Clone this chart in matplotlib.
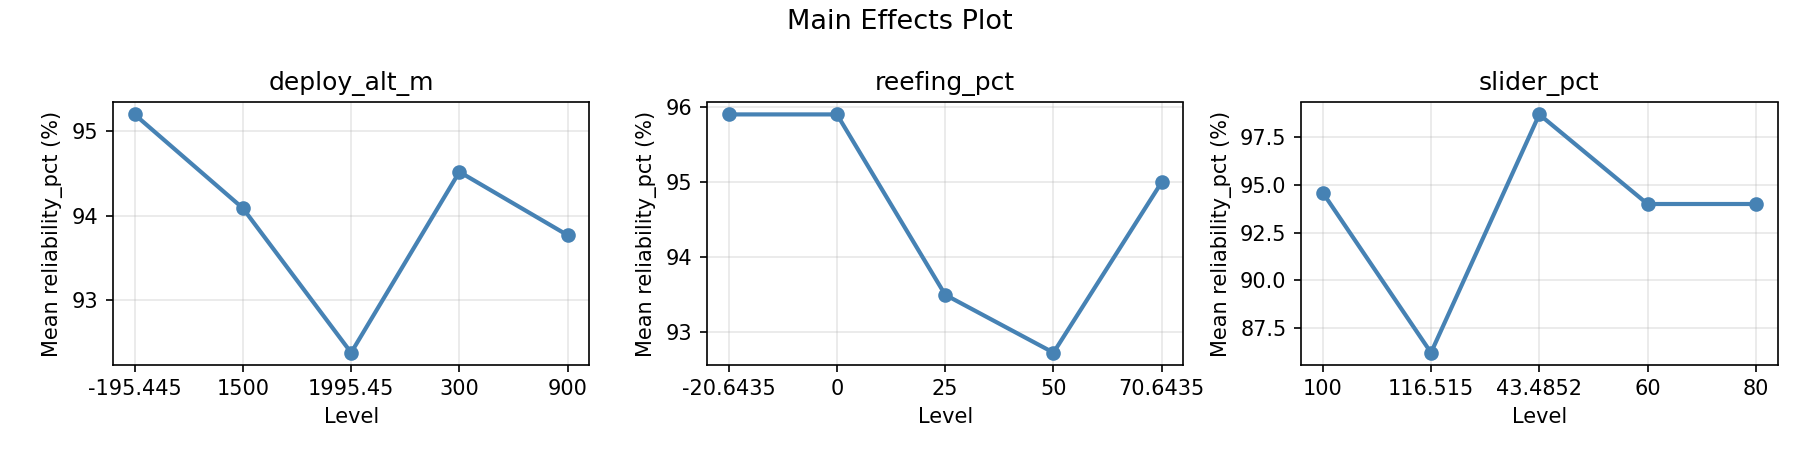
import matplotlib
matplotlib.use("Agg")
import matplotlib.pyplot as plt

factors = ["deploy_alt_m", "reefing_pct", "slider_pct"]

deploy_levels = ["-195.445", "1500", "1995.45", "300", "900"]
deploy_means = [95.20, 94.09, 92.38, 94.52, 93.77]

reefing_levels = ["-20.6435", "0", "25", "50", "70.6435"]
reefing_means = [95.90, 95.90, 93.50, 92.73, 95.00]

slider_levels = ["100", "116.515", "43.4852", "60", "80"]
slider_means = [94.6, 86.2, 98.7, 94.0, 94.0]

levels = [deploy_levels, reefing_levels, slider_levels]
means = [deploy_means, reefing_means, slider_means]

fig, axes = plt.subplots(1, 3, figsize=(12, 3), dpi=150)

for ax, name, lv, mv in zip(axes, factors, levels, means):
    ax.plot(lv, mv, marker="o", color="steelblue", linewidth=2)
    ax.set_title(name)
    ax.set_xlabel("Level")
    ax.set_ylabel("Mean reliability_pct (%)")
    ax.grid(True, alpha=0.3)

fig.suptitle("Main Effects Plot", fontsize=13)
fig.tight_layout()
fig.savefig("out.png")
